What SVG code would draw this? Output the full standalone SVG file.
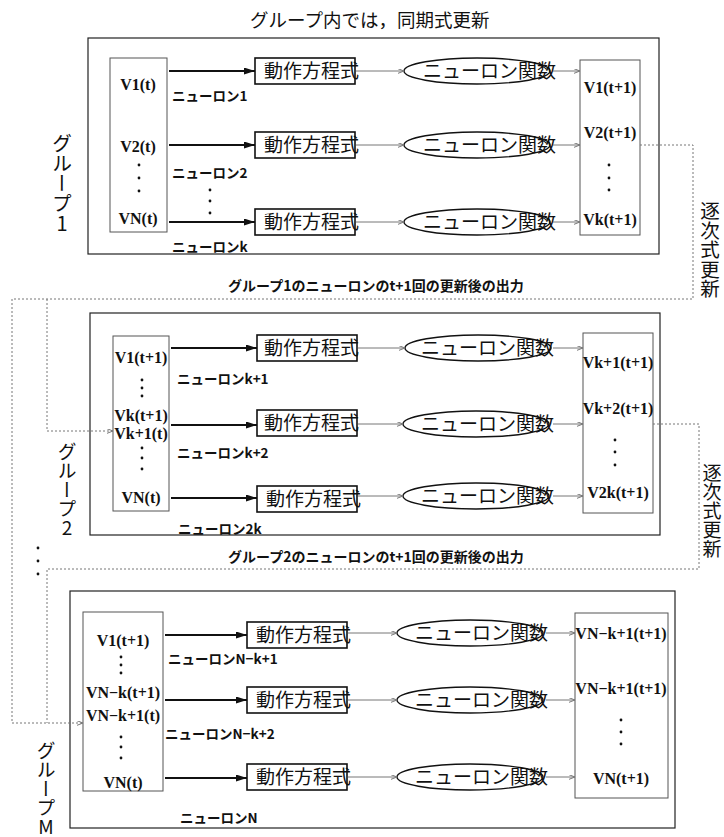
<svg xmlns="http://www.w3.org/2000/svg" width="724" height="837" viewBox="0 0 724 837">
<defs>
<style>
.outer{fill:none;stroke:#222;stroke-width:1.2}
.vbox{fill:none;stroke:#555;stroke-width:1}
.eq{fill:#fff;stroke:#111;stroke-width:1.6}
.fn{fill:#fff;stroke:#111;stroke-width:1.4}
.jp{font-family:"Noto Sans CJK JP","Noto Sans CJK SC",sans-serif;fill:#111}
.eqt{font-size:19px}
.v{font-family:"Liberation Serif",serif;font-weight:bold;font-size:16px;text-anchor:middle;dominant-baseline:central;fill:#111}
.lab{font-family:"Noto Sans CJK JP",sans-serif;font-size:13.5px;font-weight:bold;dominant-baseline:central;fill:#111}
.cap{font-family:"Noto Sans CJK JP",sans-serif;font-size:14px;font-weight:bold;dominant-baseline:central;fill:#111}
.vert{font-family:"Noto Sans CJK JP",sans-serif;writing-mode:vertical-rl;text-orientation:upright;fill:#111}
.thick{stroke:#111;stroke-width:2;fill:none;marker-end:url(#ah)}
.thin{stroke:#777;stroke-width:1;fill:none;marker-end:url(#oa)}
.dotl{stroke:#777;stroke-width:1;stroke-dasharray:2 2;fill:none}
.dotarrow{stroke:#777;stroke-width:1;stroke-dasharray:2 2;fill:none;marker-end:url(#oa)}
.dt{fill:#111}
</style>
<marker id="ah" markerUnits="userSpaceOnUse" markerWidth="12" markerHeight="8" refX="11" refY="3.5" orient="auto">
<path d="M0,0 L11,3.5 L0,7 Z" fill="#111"/>
</marker>
<marker id="oa" markerUnits="userSpaceOnUse" markerWidth="8" markerHeight="6" refX="6.5" refY="2.5" orient="auto">
<path d="M0,0 L6.5,2.5 L0,5" fill="none" stroke="#777" stroke-width="1"/>
</marker>
</defs>
<rect width="724" height="837" fill="#fff"/>

<text class="jp" x="250" y="27" font-size="18.5">グループ内では，同期式更新</text>

<!-- Group 1 -->
<g id="group1">
<rect class="outer" x="88" y="38" width="571" height="216"/>
<text class="vert" x="62" y="133" font-size="20">グループ1</text>
</g>
<g id="g1-input">
<rect class="vbox" x="110" y="58" width="57" height="174"/>
<text class="v" x="138" y="84">V1(t)</text>
<text class="v" x="138" y="146">V2(t)</text>
<circle class="dt" cx="139" cy="165" r="1.4"/><circle class="dt" cx="139" cy="178" r="1.4"/><circle class="dt" cx="139" cy="191" r="1.4"/>
<text class="v" x="138" y="218">VN(t)</text>
</g>
<g id="g1-labels">
<text class="lab" x="172" y="95">ニューロン1</text>
<text class="lab" x="172" y="172">ニューロン2</text>
<circle class="dt" cx="210" cy="190" r="1.4"/><circle class="dt" cx="210" cy="201" r="1.4"/><circle class="dt" cx="210" cy="213" r="1.4"/>
<text class="lab" x="172" y="246">ニューロンk</text>
</g>
<g id="g1-eq1"><rect class="eq" x="255" y="58" width="100" height="26"/><text class="jp eqt" x="264" y="78">動作方程式</text></g>
<g id="g1-eq2"><rect class="eq" x="255" y="132" width="100" height="26"/><text class="jp eqt" x="264" y="152">動作方程式</text></g>
<g id="g1-eq3"><rect class="eq" x="255" y="209" width="100" height="26"/><text class="jp eqt" x="264" y="229">動作方程式</text></g>
<g id="g1-fn1"><ellipse class="fn" cx="477" cy="71" rx="73" ry="13"/><text class="jp eqt" x="423" y="78">ニューロン関数</text></g>
<g id="g1-fn2"><ellipse class="fn" cx="477" cy="145" rx="73" ry="13"/><text class="jp eqt" x="423" y="152">ニューロン関数</text></g>
<g id="g1-fn3"><ellipse class="fn" cx="477" cy="222" rx="73" ry="13"/><text class="jp eqt" x="423" y="229">ニューロン関数</text></g>
<g id="g1-output">
<rect class="vbox" x="580" y="60" width="60" height="175"/>
<text class="v" x="610" y="87">V1(t+1)</text>
<text class="v" x="610" y="132">V2(t+1)</text>
<circle class="dt" cx="609" cy="165" r="1.4"/><circle class="dt" cx="609" cy="178" r="1.4"/><circle class="dt" cx="609" cy="190" r="1.4"/>
<text class="v" x="610" y="219">Vk(t+1)</text>
</g>
<text class="vert" x="710" y="201" font-size="19.5">逐次式更新</text>
<text class="cap" x="228" y="285">グループ1のニューロンのt+1回の更新後の出力</text>

<!-- Group 2 -->
<g id="group2">
<rect class="outer" x="90" y="313" width="570" height="222"/>
<text class="vert" x="67" y="442" font-size="19">グループ2</text>
</g>
<g id="g2-input">
<rect class="vbox" x="113" y="336" width="56" height="175"/>
<text class="v" x="141" y="357">V1(t+1)</text>
<circle class="dt" cx="142" cy="380" r="1.4"/><circle class="dt" cx="142" cy="388" r="1.4"/><circle class="dt" cx="142" cy="396" r="1.4"/>
<text class="v" x="141" y="415">Vk(t+1)</text>
<text class="v" x="141" y="433">Vk+1(t)</text>
<circle class="dt" cx="142" cy="448" r="1.4"/><circle class="dt" cx="142" cy="458" r="1.4"/><circle class="dt" cx="142" cy="469" r="1.4"/>
<text class="v" x="141" y="497">VN(t)</text>
</g>
<g id="g2-labels">
<text class="lab" x="177" y="378">ニューロンk+1</text>
<text class="lab" x="177" y="452">ニューロンk+2</text>
<text class="lab" x="178" y="528">ニューロン2k</text>
</g>
<g id="g2-eq1"><rect class="eq" x="257" y="335" width="100" height="26"/><text class="jp eqt" x="264" y="355">動作方程式</text></g>
<g id="g2-eq2"><rect class="eq" x="257" y="410" width="100" height="26"/><text class="jp eqt" x="264" y="430">動作方程式</text></g>
<g id="g2-eq3"><rect class="eq" x="257" y="486" width="100" height="26"/><text class="jp eqt" x="266" y="506">動作方程式</text></g>
<g id="g2-fn1"><ellipse class="fn" cx="478" cy="348" rx="73" ry="13"/><text class="jp eqt" x="421" y="355">ニューロン関数</text></g>
<g id="g2-fn2"><ellipse class="fn" cx="476" cy="424" rx="73" ry="13"/><text class="jp eqt" x="421" y="431">ニューロン関数</text></g>
<g id="g2-fn3"><ellipse class="fn" cx="476" cy="496" rx="73" ry="13"/><text class="jp eqt" x="421" y="503">ニューロン関数</text></g>
<g id="g2-output">
<rect class="vbox" x="583" y="333" width="70" height="180"/>
<text class="v" x="618" y="362">Vk+1(t+1)</text>
<text class="v" x="618" y="408">Vk+2(t+1)</text>
<circle class="dt" cx="615" cy="440" r="1.4"/><circle class="dt" cx="615" cy="452" r="1.4"/><circle class="dt" cx="615" cy="465" r="1.4"/>
<text class="v" x="618" y="492">V2k(t+1)</text>
</g>
<text class="vert" x="712" y="463" font-size="19">逐次式更新</text>
<text class="cap" x="228" y="556">グループ2のニューロンのt+1回の更新後の出力</text>

<circle class="dt" cx="38" cy="548" r="1.4"/><circle class="dt" cx="38" cy="561" r="1.4"/><circle class="dt" cx="38" cy="574" r="1.4"/>

<!-- Group M -->
<g id="groupM">
<rect class="outer" x="70" y="591" width="605" height="237"/>
<text class="vert" x="46" y="741" font-size="19">グループM</text>
</g>
<g id="gM-input">
<rect class="vbox" x="83" y="612" width="80" height="179"/>
<text class="v" x="123" y="640">V1(t+1)</text>
<circle class="dt" cx="121" cy="657" r="1.4"/><circle class="dt" cx="121" cy="665" r="1.4"/><circle class="dt" cx="121" cy="673" r="1.4"/>
<text class="v" x="123" y="692">VN−k(t+1)</text>
<text class="v" x="123" y="715">VN−k+1(t)</text>
<circle class="dt" cx="121" cy="737" r="1.4"/><circle class="dt" cx="121" cy="747" r="1.4"/><circle class="dt" cx="121" cy="758" r="1.4"/>
<text class="v" x="123" y="782">VN(t)</text>
</g>
<g id="gM-labels">
<text class="lab" x="168" y="658">ニューロンN−k+1</text>
<text class="lab" x="165" y="733">ニューロンN−k+2</text>
<text class="lab" x="180" y="817">ニューロンN</text>
</g>
<g id="gM-eq1"><rect class="eq" x="247" y="622" width="100" height="26"/><text class="jp eqt" x="256" y="642">動作方程式</text></g>
<g id="gM-eq2"><rect class="eq" x="247" y="687" width="100" height="26"/><text class="jp eqt" x="256" y="707">動作方程式</text></g>
<g id="gM-eq3"><rect class="eq" x="247" y="764" width="100" height="26"/><text class="jp eqt" x="256" y="784">動作方程式</text></g>
<g id="gM-fn1"><ellipse class="fn" cx="470" cy="633" rx="73" ry="13"/><text class="jp eqt" x="415" y="640">ニューロン関数</text></g>
<g id="gM-fn2"><ellipse class="fn" cx="470" cy="700" rx="73" ry="13"/><text class="jp eqt" x="415" y="707">ニューロン関数</text></g>
<g id="gM-fn3"><ellipse class="fn" cx="470" cy="777" rx="73" ry="13"/><text class="jp eqt" x="415" y="784">ニューロン関数</text></g>
<g id="gM-output">
<rect class="vbox" x="575" y="613" width="93" height="185"/>
<text class="v" x="621" y="633">VN−k+1(t+1)</text>
<text class="v" x="621" y="688">VN−k+1(t+1)</text>
<circle class="dt" cx="621" cy="720" r="1.4"/><circle class="dt" cx="621" cy="732" r="1.4"/><circle class="dt" cx="621" cy="744" r="1.4"/>
<text class="v" x="621" y="778">VN(t+1)</text>
</g>

<!-- connectors -->
<g id="connectors">
<line class="thick" x1="169" y1="71" x2="255" y2="71"/>
<line class="thick" x1="169" y1="145" x2="255" y2="145"/>
<line class="thick" x1="169" y1="222" x2="255" y2="222"/>
<line class="thin" x1="356" y1="71" x2="404" y2="71"/>
<line class="thin" x1="356" y1="145" x2="404" y2="145"/>
<line class="thin" x1="356" y1="222" x2="404" y2="222"/>
<line class="thin" x1="553" y1="71" x2="580" y2="71"/>
<line class="thin" x1="553" y1="145" x2="580" y2="145"/>
<line class="thin" x1="553" y1="222" x2="580" y2="222"/>

<line class="thick" x1="171" y1="348" x2="257" y2="348"/>
<line class="thick" x1="171" y1="425" x2="257" y2="425"/>
<line class="thick" x1="171" y1="498" x2="257" y2="498"/>
<line class="thin" x1="358" y1="348" x2="405" y2="348"/>
<line class="thin" x1="358" y1="424" x2="403" y2="424"/>
<line class="thin" x1="358" y1="496" x2="403" y2="496"/>
<line class="thin" x1="553" y1="348" x2="583" y2="348"/>
<line class="thin" x1="553" y1="424" x2="583" y2="424"/>
<line class="thin" x1="553" y1="496" x2="583" y2="496"/>

<line class="thick" x1="165" y1="635" x2="247" y2="635"/>
<line class="thick" x1="165" y1="700" x2="247" y2="700"/>
<line class="thick" x1="165" y1="778" x2="247" y2="778"/>
<line class="thin" x1="348" y1="633" x2="397" y2="633"/>
<line class="thin" x1="348" y1="700" x2="397" y2="700"/>
<line class="thin" x1="348" y1="777" x2="397" y2="777"/>
<line class="thin" x1="546" y1="633" x2="575" y2="633"/>
<line class="thin" x1="546" y1="700" x2="575" y2="700"/>
<line class="thin" x1="546" y1="777" x2="575" y2="777"/>

<path class="dotl" d="M640,145 H693 V299 H12 V723"/>
<path class="dotarrow" d="M47,299 V431 H113"/>
<path class="dotl" d="M653,424 H699 V569 H47 V723"/>
<path class="dotarrow" d="M12,723 H83"/>
</g>
</svg>
